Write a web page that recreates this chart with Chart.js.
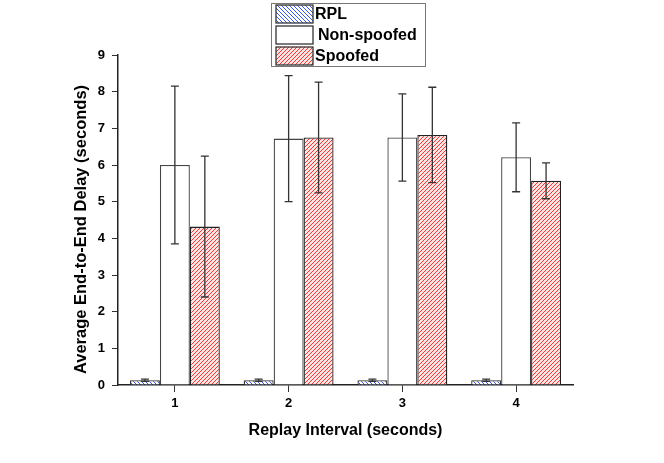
<!DOCTYPE html>
<html>
<head>
<meta charset="utf-8">
<script src="https://cdn.jsdelivr.net/npm/chart.js@4/dist/chart.umd.min.js"></script>
<style>
  body { margin: 0; background: #fff; }
  #wrap { width: 664px; height: 463px; position: relative; }
</style>
</head>
<body>
<div id="wrap"><canvas id="delayChart"></canvas></div>
<script>
// Datos
const categories = ['1', '2', '3', '4'];
const seriesNames = ['RPL', 'Non-spoofed', 'Spoofed'];
const rplValues = [0.13, 0.13, 0.13, 0.13];
const rplErrors = [0.03, 0.03, 0.03, 0.03];
const nonSpoofedValues = [6.0, 6.72, 6.75, 6.21];
const nonSpoofedErrors = [2.15, 1.72, 1.19, 0.94];
const spoofedValues = [4.32, 6.75, 6.82, 5.57];
const spoofedErrors = [1.92, 1.51, 1.3, 0.49];
const yTicks = [0, 1, 2, 3, 4, 5, 6, 7, 8, 9];
const yTitle = 'Average End-to-End Delay (seconds)';
const xTitle = 'Replay Interval (seconds)';

const FONT = "'Liberation Sans', Arial, sans-serif";

// Patrón rayado para las barras
function makeHatch(color, direction, bg) {
    const size = 4;
    const c = document.createElement('canvas');
    c.width = size;
    c.height = size;
    const g = c.getContext('2d');
    g.fillStyle = bg;
    g.fillRect(0, 0, size, size);
    g.fillStyle = color;
    for (let i = 0; i < size; i++) {
        const y = direction === '/' ? size - 1 - i : i;
        g.fillRect(i, y, 1, 1);
    }
    return g.createPattern(c, 'repeat');
}

const redPattern = makeHatch('rgb(255,50,50)', '/', 'rgb(255,228,228)');
const bluePattern = makeHatch('rgb(50,85,255)', '\\', 'rgb(255,255,255)');

// Barras de error
const errorBars = {
    id: 'errorBars',
    afterDatasetsDraw(chart) {
        const ctx = chart.ctx;
        const yScale = chart.scales.y;
        ctx.save();
        ctx.strokeStyle = '#333';
        ctx.lineWidth = 1.3;
        chart.data.datasets.forEach((ds, di) => {
            const meta = chart.getDatasetMeta(di);
            meta.data.forEach((bar, i) => {
                const v = ds.data[i];
                const e = ds.errors[i];
                const yTop = yScale.getPixelForValue(v + e);
                const yBot = yScale.getPixelForValue(v - e);
                const cap = 4;
                ctx.beginPath();
                ctx.moveTo(bar.x, yTop);
                ctx.lineTo(bar.x, yBot);
                ctx.moveTo(bar.x - cap, yTop);
                ctx.lineTo(bar.x + cap, yTop);
                ctx.moveTo(bar.x - cap, yBot);
                ctx.lineTo(bar.x + cap, yBot);
                ctx.stroke();
            });
        });
        ctx.restore();
    }
};

// Título vertical del eje Y
const yAxisTitle = {
    id: 'yAxisTitle',
    afterDraw(chart) {
        const ctx = chart.ctx;
        ctx.save();
        ctx.translate(81, 229.5);
        ctx.rotate(-Math.PI / 2);
        ctx.fillStyle = '#000';
        ctx.font = 'bold 16.5px ' + FONT;
        ctx.textAlign = 'center';
        ctx.textBaseline = 'middle';
        ctx.fillText(yTitle, 0, 0);
        ctx.restore();
    }
};

// Leyenda en recuadro
const boxLegend = {
    id: 'boxLegend',
    afterDraw(chart) {
        const ctx = chart.ctx;
        ctx.save();
        ctx.strokeStyle = '#777';
        ctx.lineWidth = 1;
        ctx.fillStyle = '#fff';
        ctx.fillRect(271.5, 3.5, 154, 63);
        ctx.strokeRect(271.5, 3.5, 154, 63);
        chart.data.datasets.forEach((ds, i) => {
            const y = 5 + i * 21;
            ctx.fillStyle = ds.backgroundColor;
            ctx.fillRect(276, y, 37, 18);
            ctx.strokeStyle = '#333';
            ctx.lineWidth = 1.3;
            ctx.strokeRect(276, y, 37, 18);
            ctx.fillStyle = '#000';
            ctx.font = 'bold 16px ' + FONT;
            ctx.textBaseline = 'middle';
            ctx.fillText(ds.label, i === 1 ? 318 : 315, y + 9.5);
        });
        ctx.restore();
    }
};

const ctx = document.getElementById('delayChart').getContext('2d');
const chart = new Chart(ctx, {
    type: 'bar',
    data: {
        labels: categories,
        datasets: [
            {
                label: seriesNames[0],
                data: rplValues,
                errors: rplErrors,
                backgroundColor: bluePattern,
                borderColor: '#333',
                borderWidth: 1.3
            },
            {
                label: seriesNames[1],
                data: nonSpoofedValues,
                errors: nonSpoofedErrors,
                backgroundColor: '#fff',
                borderColor: '#444',
                borderWidth: 1.3
            },
            {
                label: seriesNames[2],
                data: spoofedValues,
                errors: spoofedErrors,
                backgroundColor: redPattern,
                borderColor: '#222',
                borderWidth: 1.3
            }
        ]
    },
    options: {
        responsive: true,
        maintainAspectRatio: false,
        animation: false,
        categoryPercentage: 0.79,
        barPercentage: 1.0,
        layout: { padding: { top: 55, right: 91, bottom: 0, left: 0 } },
        scales: {
            x: {
                afterFit: s => { s.height = 78; },
                grid: { offset: false, drawOnChartArea: false, tickLength: 7, color: '#333' },
                border: { color: '#222', width: 1.5 },
                ticks: { color: '#000', padding: 4, font: { family: FONT, size: 13, weight: 'bold' } },
                title: {
                    display: true,
                    text: xTitle,
                    color: '#000',
                    padding: { top: 0, bottom: 23 },
                    font: { family: FONT, size: 16, weight: 'bold' }
                }
            },
            y: {
                min: 0,
                max: 9,
                afterFit: s => { s.width = 118; },
                afterBuildTicks: s => { s.ticks = yTicks.map(v => ({ value: v })); },
                grid: { drawOnChartArea: false, tickLength: 6, color: '#333' },
                border: { color: '#222', width: 1.5 },
                ticks: { color: '#000', padding: 7, font: { family: FONT, size: 13, weight: 'bold' } }
            }
        },
        plugins: {
            legend: { display: false },
            tooltip: { enabled: false }
        }
    },
    plugins: [errorBars, yAxisTitle, boxLegend]
});
</script>
</body>
</html>
